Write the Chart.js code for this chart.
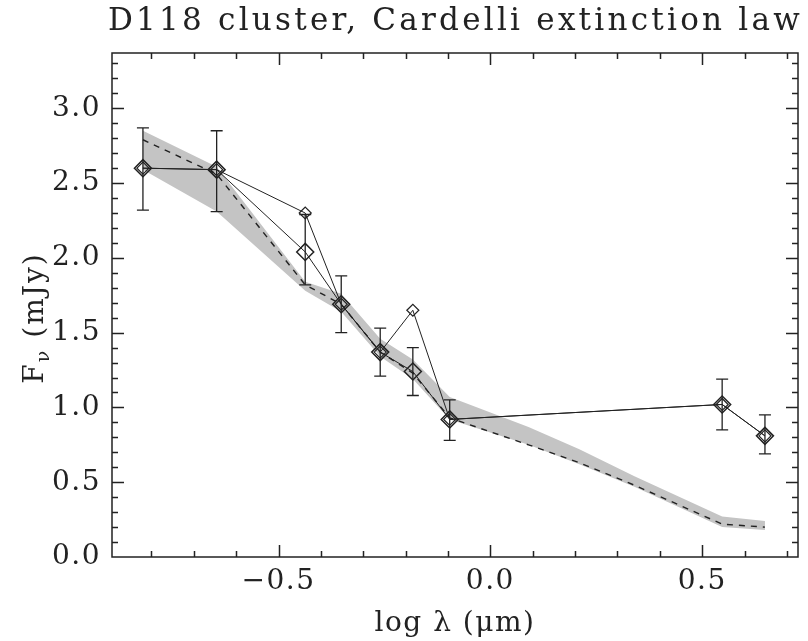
<!DOCTYPE html>
<html>
<head>
<meta charset="utf-8">
<script src="https://cdn.jsdelivr.net/npm/chart.js@4/dist/chart.umd.min.js"></script>
<style>
  html, body { margin: 0; padding: 0; background: #fff; }
  #wrap { width: 808px; height: 641px; }
</style>
</head>
<body>
<div id="wrap"><canvas id="sed"></canvas></div>
<script>
// photometry: log wavelength (micron) vs flux density (mJy)
const logLam = [-0.82, -0.646, -0.437, -0.352, -0.26, -0.183, -0.096, 0.547, 0.648]
const flux = [2.60, 2.59, 2.04, 1.69, 1.37, 1.24, 0.92, 1.02, 0.81]
const fluxLo = [2.32, 2.31, 1.82, 1.50, 1.21, 1.08, 0.78, 0.85, 0.69]
const fluxHi = [2.87, 2.85, 2.29, 1.88, 1.53, 1.40, 1.05, 1.19, 0.95]
// second set, only differs in two bands
const fluxAlt = [2.60, 2.59, 2.30, 1.69, 1.37, 1.65, 0.92, 1.02, 0.81]

// reddened cluster model (Cardelli law)
const modelLam = [-0.82, -0.646, -0.437, -0.352, -0.26, -0.183, -0.096, 0.09, 0.21, 0.34, 0.547, 0.648]
const modelBest = [2.79, 2.56, 1.82, 1.69, 1.37, 1.23, 0.93, 0.75, 0.63, 0.48, 0.22, 0.20]
const modelHi = [2.85, 2.61, 1.84, 1.76, 1.46, 1.32, 1.07, 0.87, 0.72, 0.54, 0.27, 0.24]
const modelLo = [2.59, 2.31, 1.78, 1.64, 1.34, 1.19, 0.92, 0.75, 0.62, 0.47, 0.20, 0.18]

const xTicks = [-0.5, 0.0, 0.5]
const yTicks = [0.0, 0.5, 1.0, 1.5, 2.0, 2.5, 3.0]

const TITLE = 'D118 cluster, Cardelli extinction law'
const FONT = '"DejaVu Serif", serif'
const INK = '#222'

const pts = (xs, ys) => xs.map((x, i) => ({ x: x, y: ys[i] }))

// wide, airy lettering everywhere
const spacingPlugin = {
  id: 'spacing',
  beforeDraw(chart) { chart.ctx.letterSpacing = '1.5px' },
  afterDraw(chart) { chart.ctx.letterSpacing = '0px' },
}

// box, inward ticks on all four sides, error bars
const framePlugin = {
  id: 'frame',
  afterDatasetsDraw(chart) {
    const { ctx, chartArea: a, scales: { x, y } } = chart
    ctx.save()
    ctx.strokeStyle = INK
    ctx.lineWidth = 1.3

    // error bars
    logLam.forEach((v, i) => {
      const px = x.getPixelForValue(v)
      const y1 = y.getPixelForValue(fluxLo[i])
      const y2 = y.getPixelForValue(fluxHi[i])
      ctx.beginPath()
      ctx.moveTo(px, y1); ctx.lineTo(px, y2)
      ctx.moveTo(px - 6, y1); ctx.lineTo(px + 6, y1)
      ctx.moveTo(px - 6, y2); ctx.lineTo(px + 6, y2)
      ctx.stroke()
    })

    ctx.lineWidth = 1.5
    ctx.strokeRect(a.left, a.top, a.right - a.left, a.bottom - a.top)

    ctx.beginPath()
    for (let i = -9; i <= 7; i++) {
      const v = i / 10
      if (v <= x.min || v >= x.max) continue
      const px = Math.round(x.getPixelForValue(v)) + 0.5
      const len = i % 5 === 0 ? 12 : 6
      ctx.moveTo(px, a.bottom); ctx.lineTo(px, a.bottom - len)
      ctx.moveTo(px, a.top); ctx.lineTo(px, a.top + len)
    }
    for (let i = 1; i <= 33; i++) {
      const v = i / 10
      if (v >= y.max) continue
      const py = Math.round(y.getPixelForValue(v)) + 0.5
      const len = i % 5 === 0 ? 12 : 6
      ctx.moveTo(a.left, py); ctx.lineTo(a.left + len, py)
      ctx.moveTo(a.right, py); ctx.lineTo(a.right - len, py)
    }
    ctx.stroke()
    ctx.restore()
  }
}

// title stretched over the plot, y title with a subscript nu
const textPlugin = {
  id: 'texts',
  afterDraw(chart) {
    const { ctx, chartArea: a } = chart
    ctx.save()
    ctx.fillStyle = INK
    ctx.font = '31px ' + FONT
    ctx.letterSpacing = '0px'
    const w = ctx.measureText(TITLE).width
    const target = a.right + 5 - (a.left - 4)
    ctx.letterSpacing = ((target - w) / TITLE.length) + 'px'
    ctx.textAlign = 'left'
    ctx.textBaseline = 'alphabetic'
    ctx.fillText(TITLE, a.left - 4, 30)
    ctx.restore()

    ctx.save()
    ctx.letterSpacing = '2px'
    ctx.translate(36, 318)
    ctx.rotate(-Math.PI / 2)
    ctx.fillStyle = INK
    ctx.textBaseline = 'middle'
    const big = '28px ' + FONT
    const small = '19px ' + FONT
    ctx.font = big
    const wF = ctx.measureText('F').width
    const wRest = ctx.measureText(' (mJy)').width
    ctx.font = small
    const wNu = ctx.measureText('ν').width
    let cx = -(wF + wNu + wRest) / 2
    ctx.textAlign = 'left'
    ctx.font = big
    ctx.fillText('F', cx, 0)
    cx += wF
    ctx.font = small
    ctx.fillText('ν', cx, 8)
    cx += wNu
    ctx.font = big
    ctx.fillText(' (mJy)', cx, 0)
    ctx.restore()
  }
}

const ctx = document.getElementById('sed').getContext('2d')
const sed = new Chart(ctx, {
  type: 'scatter',
  data: {
    datasets: [
      {
        label: 'model upper',
        data: pts(modelLam, modelHi),
        showLine: true,
        fill: '+1',
        backgroundColor: '#c4c4c4',
        borderWidth: 0,
        pointRadius: 0,
        order: 10,
      },
      {
        label: 'model lower',
        data: pts(modelLam, modelLo),
        showLine: true,
        borderWidth: 0,
        pointRadius: 0,
        order: 10,
      },
      {
        label: 'model',
        data: pts(modelLam, modelBest),
        showLine: true,
        borderColor: INK,
        borderWidth: 1.4,
        borderDash: [6, 6],
        pointRadius: 0,
        order: 8,
      },
      {
        label: 'alt',
        data: pts(logLam, fluxAlt),
        showLine: true,
        borderColor: INK,
        borderWidth: 1,
        pointStyle: 'rectRot',
        pointRadius: 6,
        pointBorderWidth: 1.2,
        pointBorderColor: INK,
        pointBackgroundColor: 'rgba(0,0,0,0)',
        order: 2,
      },
      {
        label: 'flux',
        data: pts(logLam, flux),
        showLine: true,
        borderColor: INK,
        borderWidth: 1,
        pointStyle: 'rectRot',
        pointRadius: 8.5,
        pointBorderWidth: 1.5,
        pointBorderColor: INK,
        pointBackgroundColor: 'rgba(0,0,0,0)',
        order: 1,
      },
    ]
  },
  options: {
    responsive: true,
    maintainAspectRatio: false,
    animation: false,
    layout: { padding: { left: 0, right: 8, top: 53, bottom: 0 } },
    plugins: {
      legend: { display: false },
      tooltip: { enabled: false },
      filler: { propagate: false },
      title: { display: false },
    },
    scales: {
      x: {
        type: 'linear',
        min: -0.893,
        max: 0.726,
        grid: { display: false, drawTicks: false },
        border: { display: false },
        afterBuildTicks: s => { s.ticks = xTicks.map(v => ({ value: v })) },
        afterFit: s => { s.height = 84 },
        ticks: {
          padding: 8,
          color: INK,
          font: { family: FONT, size: 28 },
          maxRotation: 0,
          callback: v => (v < 0 ? '\u2212' : '') + Math.abs(v).toFixed(1),
        },
        title: {
          display: true,
          text: 'log λ (μm)',
          color: INK,
          font: { family: FONT, size: 28 },
          padding: { top: 0, bottom: 0 },
        },
      },
      y: {
        type: 'linear',
        min: 0,
        max: 3.37,
        grid: { display: false, drawTicks: false },
        border: { display: false },
        afterBuildTicks: s => { s.ticks = yTicks.map(v => ({ value: v })) },
        afterFit: s => { s.width = 112 },
        ticks: {
          padding: 11,
          color: INK,
          font: { family: FONT, size: 28 },
          callback: v => v.toFixed(1),
        },
      },
    },
  },
  plugins: [spacingPlugin, framePlugin, textPlugin],
})
</script>
</body>
</html>
